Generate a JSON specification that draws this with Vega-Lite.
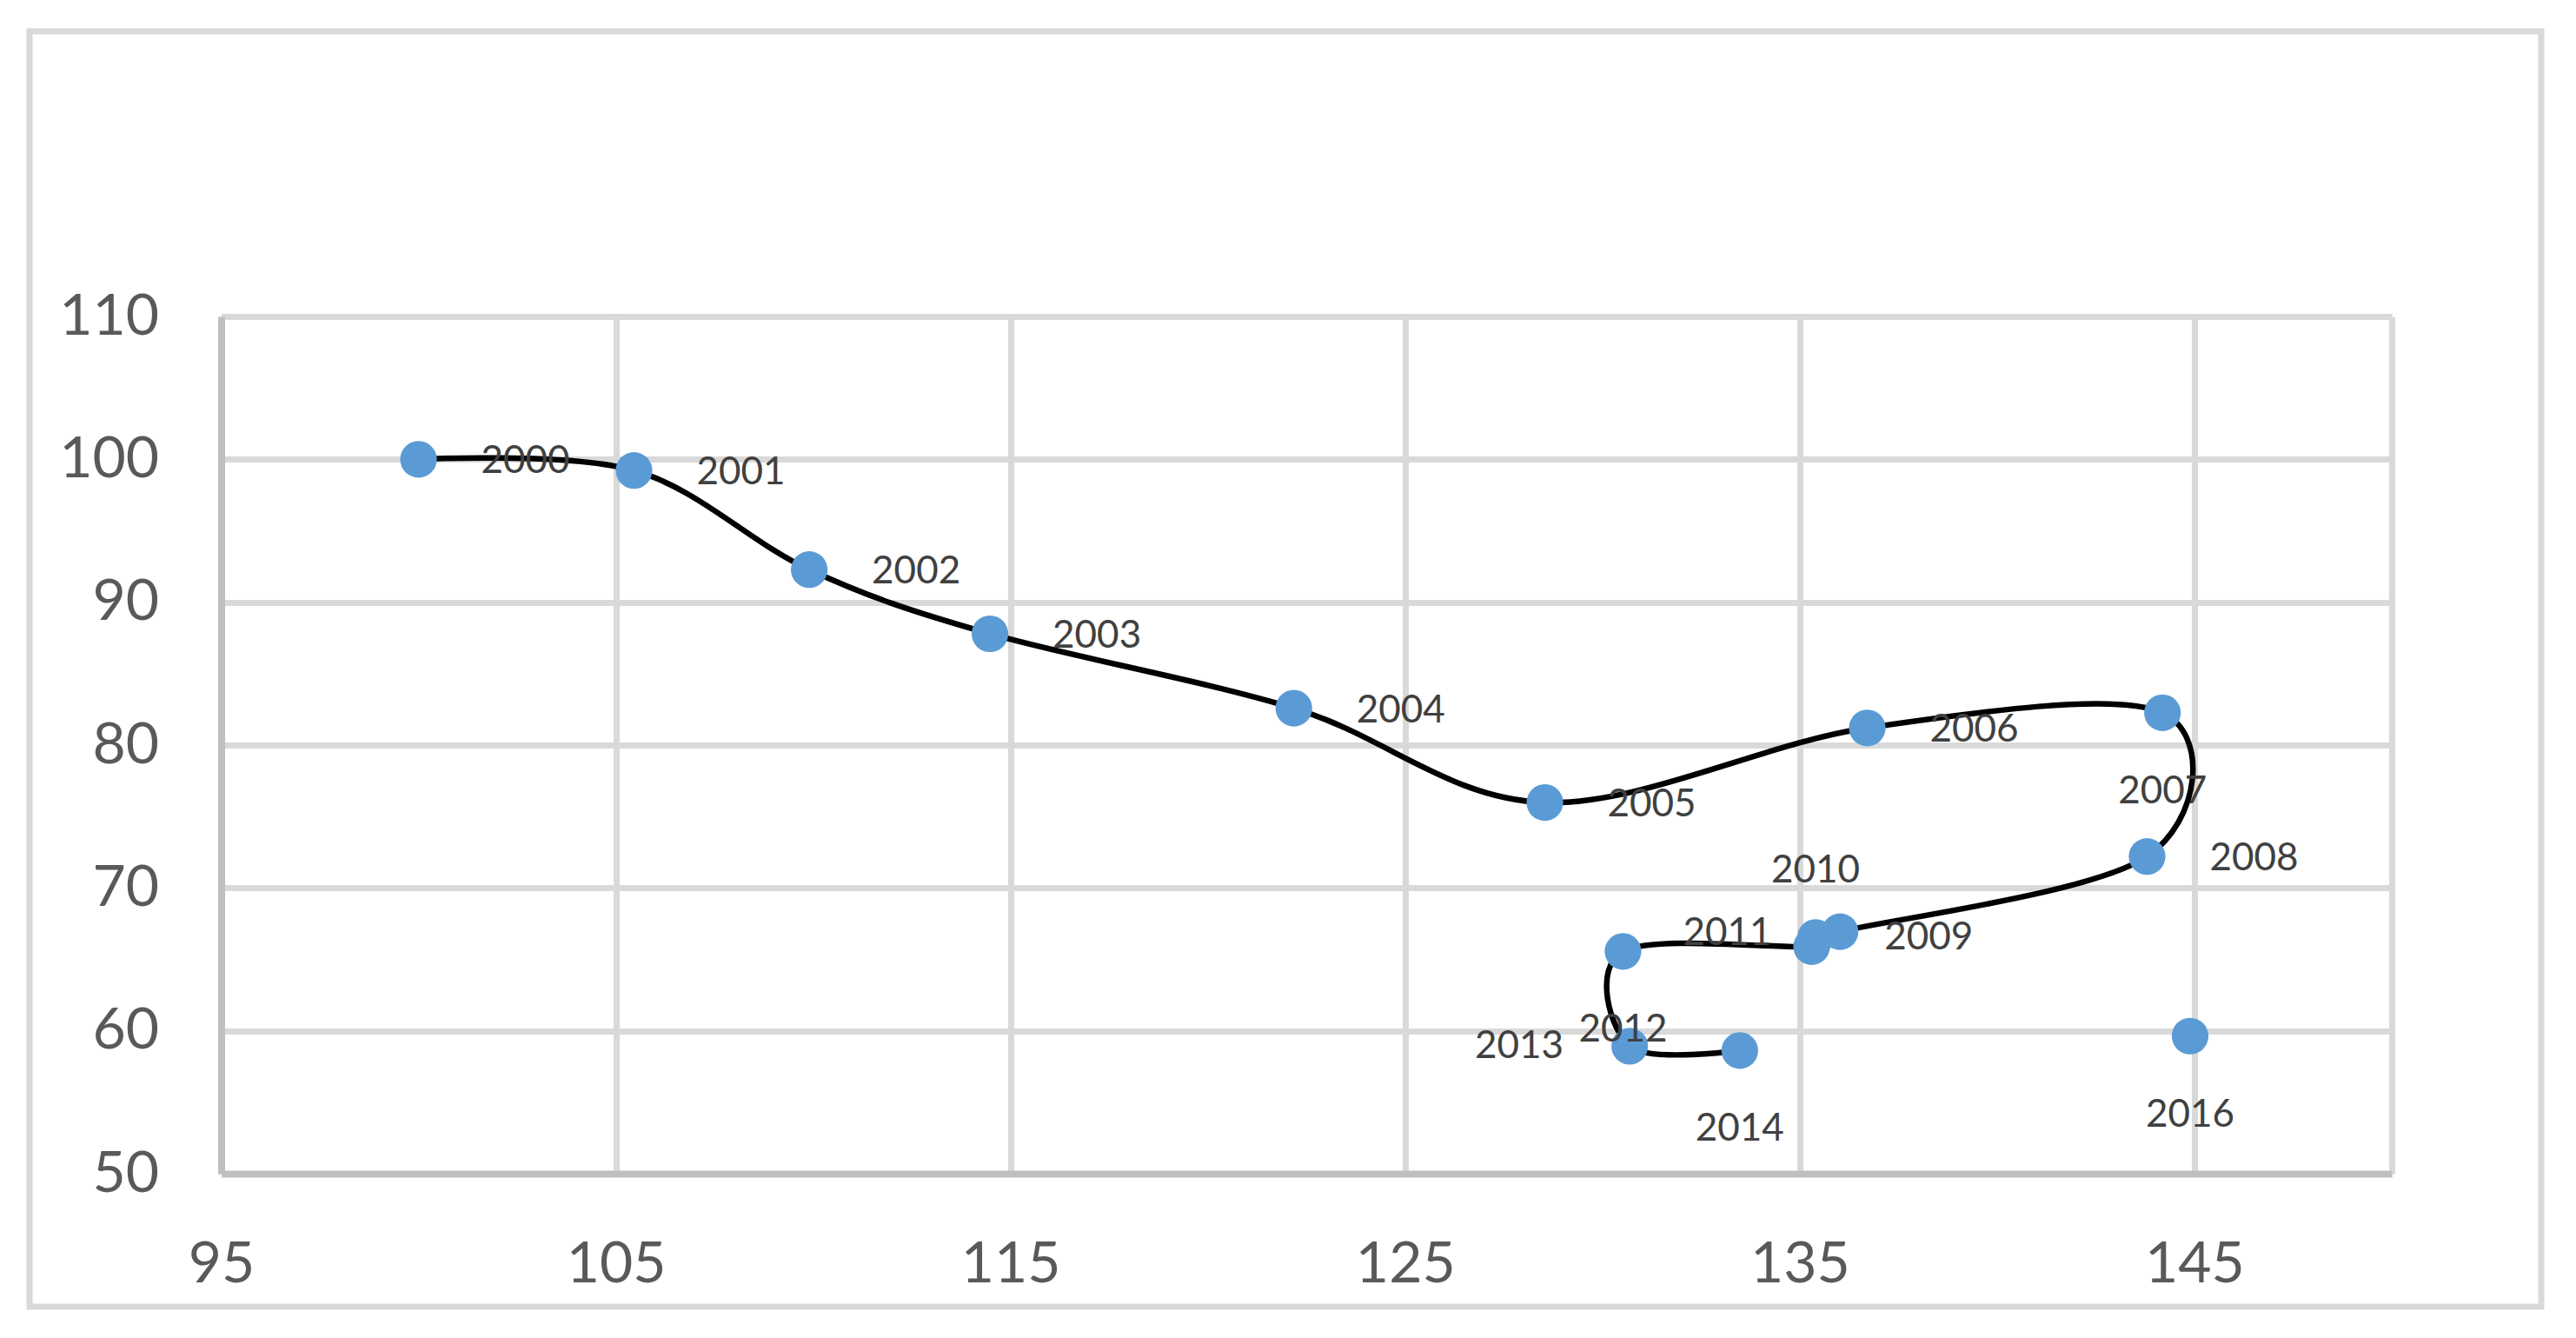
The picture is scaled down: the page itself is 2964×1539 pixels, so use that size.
{
  "$schema": "https://vega.github.io/schema/vega-lite/v6.json",
  "width": 2890,
  "height": 1467,
  "autosize": {"type": "none"},
  "padding": {"left": 34, "top": 36, "right": 40, "bottom": 36},
  "background": "white",
  "view": {"stroke": "#d9d9d9", "strokeWidth": 7, "fill": "white"},
  "data": {
    "values": [
      {"year": 2000, "x": 100.0, "y": 100.0},
      {"year": 2001, "x": 105.46, "y": 99.22},
      {"year": 2002, "x": 109.9, "y": 92.28},
      {"year": 2003, "x": 114.48, "y": 87.79},
      {"year": 2004, "x": 122.18, "y": 82.58},
      {"year": 2005, "x": 128.54, "y": 75.98},
      {"year": 2006, "x": 136.71, "y": 81.2},
      {"year": 2007, "x": 144.19, "y": 82.26},
      {"year": 2008, "x": 143.8, "y": 72.2},
      {"year": 2009, "x": 136.02, "y": 66.94},
      {"year": 2010, "x": 135.4, "y": 66.53},
      {"year": 2011, "x": 135.3, "y": 65.89},
      {"year": 2012, "x": 130.52, "y": 65.56},
      {"year": 2013, "x": 130.69, "y": 58.92},
      {"year": 2014, "x": 133.48, "y": 58.62},
      {"year": 2016, "x": 144.89, "y": 59.63}
    ]
  },
  "encoding": {
    "x": {
      "field": "x",
      "type": "quantitative",
      "scale": {"domain": [95, 150], "range": [220.5, 2718], "nice": false, "zero": false},
      "axis": {
        "orient": "top",
        "offset": -1314,
        "title": null,
        "values": [95, 105, 115, 125, 135, 145, 150],
        "labelExpr": "datum.value == 150 ? '' : datum.label",
        "grid": true,
        "gridColor": "#d9d9d9",
        "gridWidth": 7,
        "domain": true,
        "domainColor": "#bfbfbf",
        "domainWidth": 8,
        "ticks": false,
        "tickSize": 0,
        "labelPadding": -104,
        "labelBaseline": "middle",
        "labelFont": "Lato",
        "labelFontSize": 66,
        "labelColor": "#595959",
        "labelFlush": false,
        "labelOverlap": false
      }
    },
    "y": {
      "field": "y",
      "type": "quantitative",
      "scale": {"domain": [50, 110], "range": [1314, 328], "nice": false, "zero": false},
      "axis": {
        "orient": "left",
        "offset": -220.5,
        "title": null,
        "values": [50, 60, 70, 80, 90, 100, 110],
        "grid": true,
        "gridColor": "#d9d9d9",
        "gridWidth": 7,
        "domain": true,
        "domainColor": "#bfbfbf",
        "domainWidth": 8,
        "ticks": false,
        "tickSize": 0,
        "labelPadding": 72,
        "labelFont": "Lato",
        "labelFontSize": 66,
        "labelColor": "#595959",
        "labelFlush": false,
        "labelOverlap": false
      }
    }
  },
  "layer": [
    {
      "transform": [{"filter": "datum.year <= 2014"}],
      "mark": {"type": "line", "interpolate": "cardinal", "tension": 0, "color": "black", "strokeWidth": 6.5},
      "encoding": {"order": {"field": "year", "type": "quantitative"}}
    },
    {
      "mark": {"type": "circle", "size": 1780, "color": "#5b9bd5", "opacity": 1},
      "encoding": {}
    },
    {
      "transform": [{"filter": "indexof([2000,2001,2002,2003,2004,2005,2006,2008], datum.year) >= 0"}],
      "mark": {"type": "text", "align": "left", "baseline": "middle", "dx": 72, "dy": 3, "font": "Lato", "fontSize": 44, "color": "#404040"},
      "encoding": {"text": {"field": "year", "type": "quantitative", "format": "d"}}
    },
    {
      "transform": [{"filter": "datum.year == 2009"}],
      "mark": {"type": "text", "align": "left", "baseline": "middle", "dx": 51, "dy": 7, "font": "Lato", "fontSize": 44, "color": "#404040"},
      "encoding": {"text": {"field": "year", "type": "quantitative", "format": "d"}}
    },
    {
      "transform": [{"filter": "indexof([2007,2012,2014,2016], datum.year) >= 0"}],
      "mark": {"type": "text", "align": "center", "baseline": "middle", "dy": 91, "font": "Lato", "fontSize": 44, "color": "#404040"},
      "encoding": {"text": {"field": "year", "type": "quantitative", "format": "d"}}
    },
    {
      "transform": [{"filter": "datum.year == 2010"}],
      "mark": {"type": "text", "align": "center", "baseline": "middle", "dy": -76, "font": "Lato", "fontSize": 44, "color": "#404040"},
      "encoding": {"text": {"field": "year", "type": "quantitative", "format": "d"}}
    },
    {
      "transform": [{"filter": "datum.year == 2011"}],
      "mark": {"type": "text", "align": "right", "baseline": "middle", "dx": -46, "dy": -15, "font": "Lato", "fontSize": 44, "color": "#404040"},
      "encoding": {"text": {"field": "year", "type": "quantitative", "format": "d"}}
    },
    {
      "transform": [{"filter": "datum.year == 2013"}],
      "mark": {"type": "text", "align": "right", "baseline": "middle", "dx": -76, "dy": 1, "font": "Lato", "fontSize": 44, "color": "#404040"},
      "encoding": {"text": {"field": "year", "type": "quantitative", "format": "d"}}
    }
  ]
}
